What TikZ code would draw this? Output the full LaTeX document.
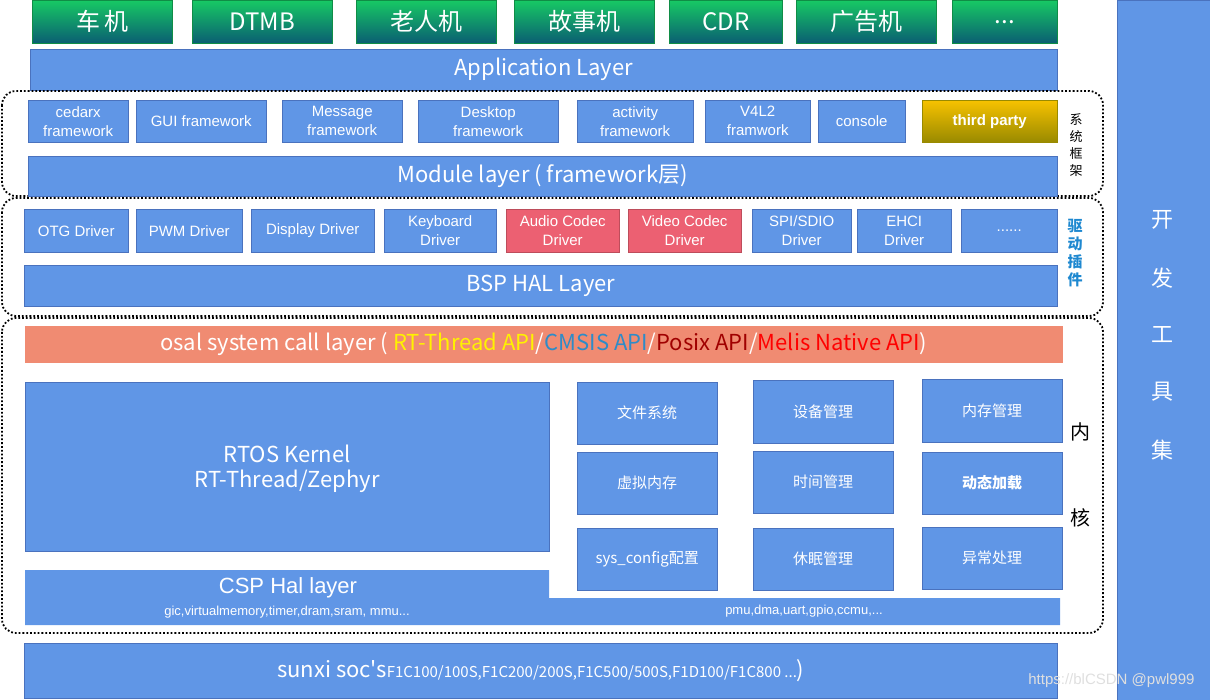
\documentclass[tikz,border=0pt]{standalone}
\usepackage{fontspec}
\setmainfont{Liberation Sans}
\newfontfamily\cjk{Noto Sans CJK SC}
\usetikzlibrary{positioning}
\definecolor{bl}{HTML}{6096E6}
\definecolor{bd}{HTML}{4A72BE}
\definecolor{pk}{HTML}{EC6072}
\definecolor{sal}{HTML}{F08B72}
\definecolor{gtop}{HTML}{17C964}
\definecolor{gbot}{HTML}{0A5E72}
\definecolor{ytop}{HTML}{F7C200}
\definecolor{ybot}{HTML}{998A00}
\definecolor{cms}{HTML}{2E8BC8}
\definecolor{psx}{HTML}{A00000}
\definecolor{drv}{HTML}{1E88D0}
\newcommand{\Bx}[7][]{\node[box,#1,minimum width=#5-#3,minimum height=#6-#4,anchor=north west] (#2) at (#3,#4) {#7};}
\begin{document}
\begin{tikzpicture}[x=1pt,y=-1pt,
 box/.style={draw=bd,fill=bl,text=white,inner sep=0pt,align=center,font=\fontsize{15}{17}\selectfont\cjk},
 sm/.style={font=\fontsize{15}{19}\selectfont},
 big/.style={font=\fontsize{22}{25}\selectfont\cjk},
 top/.style={draw=gtop!70!black,top color=gtop,bottom color=gbot,text=white,font=\fontsize{24}{26}\selectfont\cjk},
 grp/.style={draw=black,line width=1.8pt,dotted,rounded corners=14pt},
 cell/.style={font=\fontsize{15}{17}\selectfont\cjk}]
\useasboundingbox (0,0) rectangle (1210,700);
% top row
\Bx[top]{t1}{32}{0}{172}{43}{车\,机}
\Bx[top]{t2}{192}{0}{332}{43}{DTMB}
\Bx[top]{t3}{356}{0}{496}{43}{老人机}
\Bx[top]{t4}{514}{0}{654}{43}{故事机}
\Bx[top]{t5}{669}{0}{782}{43}{CDR}
\Bx[top]{t6}{796}{0}{936}{43}{广告机}
\Bx[top]{t7}{952}{0}{1057}{43}{...}
\Bx[big]{app}{30}{49}{1057}{90}{Application Layer}
% groups
\draw[grp] (2,91) rectangle (1103,196);
\draw[grp] (2,198) rectangle (1103,316);
\draw[grp] (2,318) rectangle (1103,633);
% framework
\Bx[sm]{f1}{28}{100}{128}{142}{cedarx\\framework}
\Bx[sm]{f2}{136}{100}{266}{142}{GUI framework}
\Bx[sm]{f3}{282}{100}{402}{142}{Message\\framework}
\Bx[sm]{f4}{418}{100}{558}{142}{Desktop\\framework}
\Bx[sm]{f5}{577}{100}{693}{142}{activity\\framework}
\Bx[sm]{f6}{705}{100}{810}{142}{V4L2\\framwork}
\Bx[sm]{f7}{818}{100}{905}{142}{console}
\Bx[sm,draw=ybot,top color=ytop,bottom color=ybot,font=\bfseries\fontsize{15}{17}\selectfont]{f8}{922}{100}{1057}{142}{third party}
\node[align=center,font=\fontsize{13}{17}\selectfont\cjk] (l1) at (1076,145) {系\\统\\框\\架};
\Bx[big]{mod}{28}{156}{1057}{196}{Module layer ( framework层)}
% drivers
\Bx[sm]{d1}{24}{209}{128}{252}{OTG Driver}
\Bx[sm]{d2}{136}{209}{242}{252}{PWM Driver}
\Bx[sm]{d3}{251}{209}{374}{252}{Display Driver}
\Bx[sm]{d4}{384}{209}{496}{252}{Keyboard\\Driver}
\Bx[sm,fill=pk,draw=pk!80!black]{d5}{506}{209}{619}{252}{Audio Codec\\Driver}
\Bx[sm,fill=pk,draw=pk!80!black]{d6}{628}{209}{741}{252}{Video Codec\\Driver}
\Bx[sm]{d7}{752}{209}{851}{252}{SPI/SDIO\\Driver}
\Bx[sm]{d8}{857}{209}{951}{252}{EHCI\\Driver}
\Bx[sm]{d9}{961}{209}{1057}{252}{......}
\node[align=center,text=drv,font=\bfseries\fontsize{15}{18}\selectfont\cjk] (l2) at (1075,253) {驱\\动\\插\\件};
\Bx[big]{bsp}{24}{265}{1057}{306}{BSP HAL Layer}
% kernel
\Bx[big,fill=sal,draw=sal]{osal}{25}{326}{1062}{362}{osal system call layer ( \textcolor{yellow}{RT-Thread API}/\textcolor{cms}{CMSIS API}/\textcolor{psx}{Posix API}/\textcolor{red}{Melis Native API})}
\Bx[big,text depth=0pt]{rtos}{25}{382}{549}{551}{RTOS Kernel\\RT-Thread/Zephyr}
\Bx[cell]{k1}{577}{382}{717}{444}{文件系统}
\Bx[cell]{k2}{753}{380}{893}{443}{设备管理}
\Bx[cell]{k3}{922}{379}{1062}{442}{内存管理}
\Bx[cell]{k4}{577}{452}{717}{514}{虚拟内存}
\Bx[cell]{k5}{753}{451}{893}{513}{时间管理}
\Bx[cell,font=\bfseries\fontsize{15}{17}\selectfont\cjk]{k6}{922}{452}{1062}{514}{动态加载}
\Bx[cell]{k7}{577}{528}{717}{590}{sys\_config配置}
\Bx[cell]{k8}{753}{528}{893}{590}{休眠管理}
\Bx[cell]{k9}{922}{527}{1062}{589}{异常处理}
\node[font=\fontsize{20}{22}\selectfont\cjk] (l3) at (1080,432) {内};
\node[font=\fontsize{20}{22}\selectfont\cjk] (l4) at (1080,518) {核};
% CSP
\fill[bl] (25,570) -- (549,570) -- (549,598) -- (1060,598) -- (1060,625) -- (25,625) -- cycle;
\node[text=white,font=\fontsize{22}{24}\selectfont] (csp) at (288,588) {CSP Hal layer};
\node[text=white,font=\fontsize{13}{15}\selectfont] (csp1) at (287,612) {gic,virtualmemory,timer,dram,sram, mmu...};
\node[text=white,font=\fontsize{13}{15}\selectfont] (csp2) at (804,611) {pmu,dma,uart,gpio,ccmu,...};
\Bx[big]{soc}{24}{643}{1057}{698}{sunxi soc's{\fontsize{15}{17}\selectfont F1C100/100S,F1C200/200S,F1C500/500S,F1D100/F1C800 ...})}
% tools
\Bx[font=\fontsize{22}{26}\selectfont\cjk]{tool}{1117}{0}{1210}{700}{}
\foreach \c/\yy in {开/220,发/278,工/335,具/392,集/450} \node[text=white,font=\fontsize{22}{26}\selectfont\cjk] at (1162,\yy) {\c};
\node[anchor=east,text=white!75!gray,font=\fontsize{15}{17}\selectfont] (wm) at (1198,681) {https://blCSDN @pwl999};
\end{tikzpicture}
\end{document}
